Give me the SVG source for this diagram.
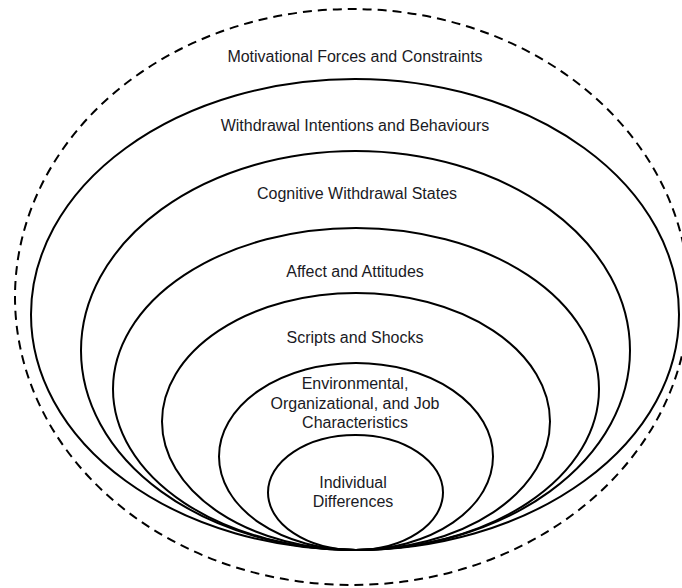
<svg xmlns="http://www.w3.org/2000/svg" width="682" height="588" viewBox="0 0 682 588">
<style>
.e{fill:none;stroke:#000;stroke-width:2}
.d{fill:none;stroke:#000;stroke-width:2;stroke-dasharray:9,6}
text{font-family:"Liberation Sans",Arial,sans-serif;font-size:16px;fill:#1a1a24;text-anchor:middle}
</style>
<rect width="682" height="588" fill="#fff"/>
<g id="motivational">
<ellipse class="d" cx="352" cy="297" rx="337" ry="288"/>
<text x="355" y="62">Motivational Forces and Constraints</text>
</g>
<g id="withdrawal">
<ellipse class="e" cx="355" cy="314.5" rx="324" ry="235.5"/>
<text x="355" y="131">Withdrawal Intentions and Behaviours</text>
</g>
<g id="cognitive">
<ellipse class="e" cx="355.5" cy="350.5" rx="274.5" ry="199.5"/>
<text x="357" y="199">Cognitive Withdrawal States</text>
</g>
<g id="affect">
<ellipse class="e" cx="356" cy="389" rx="243" ry="161"/>
<text x="355" y="277">Affect and Attitudes</text>
</g>
<g id="scripts">
<ellipse class="e" cx="356" cy="421.5" rx="194" ry="128.5"/>
<text x="355" y="343">Scripts and Shocks</text>
</g>
<g id="environmental">
<ellipse class="e" cx="356" cy="456.5" rx="137" ry="93.5"/>
<text x="355" y="389">Environmental,</text>
<text x="355" y="409">Organizational, and Job</text>
<text x="355" y="428">Characteristics</text>
</g>
<g id="individual">
<ellipse class="e" cx="355.5" cy="492.5" rx="87.5" ry="57.5"/>
<text x="353" y="488">Individual</text>
<text x="353" y="507">Differences</text>
</g>
<g id="connectors"/>
</svg>
